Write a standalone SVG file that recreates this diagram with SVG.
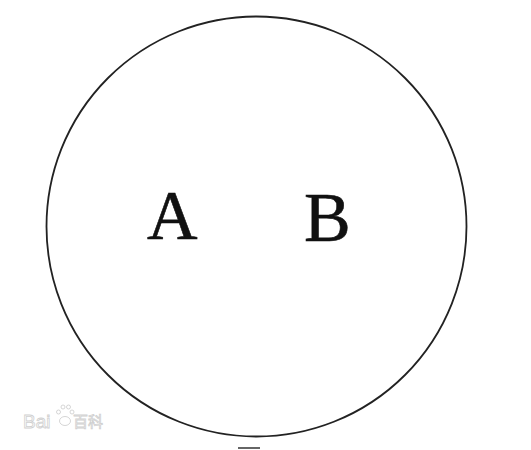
<svg xmlns="http://www.w3.org/2000/svg" width="531" height="450" viewBox="0 0 531 450">
<style>
.lbl{font-family:"Liberation Serif","Times New Roman",serif;font-size:70px;fill:#111;stroke:#111;stroke-width:0.6}
.wm{font-family:"Liberation Sans","Noto Sans CJK SC",sans-serif;fill:none;stroke:#d0d0d0;stroke-width:0.8}
</style>
<rect width="531" height="450" fill="#fff"/>
<g id="circle">
<circle cx="256.5" cy="226.5" r="210" fill="none" stroke="#222" stroke-width="1.8"/>
</g>
<g id="labelA"><text class="lbl" x="147" y="239">A</text></g>
<g id="labelB"><text class="lbl" x="304" y="241">B</text></g>
<g id="tick"><line x1="238" y1="448" x2="260" y2="448" stroke="#333" stroke-width="1.5"/></g>
<g id="watermark">
<text class="wm" x="23" y="428" style="font-size:19px">Bai</text>
<g fill="none" stroke="#d0d0d0" stroke-width="0.9">
<ellipse cx="65" cy="421" rx="5.5" ry="4.5"/>
<circle cx="58.5" cy="412" r="2"/>
<circle cx="63" cy="407" r="2"/>
<circle cx="68.5" cy="407" r="2"/>
<circle cx="72" cy="412" r="2"/>
</g>
<text class="wm" x="73" y="427" style="font-size:15px">百科</text>
</g>
</svg>
